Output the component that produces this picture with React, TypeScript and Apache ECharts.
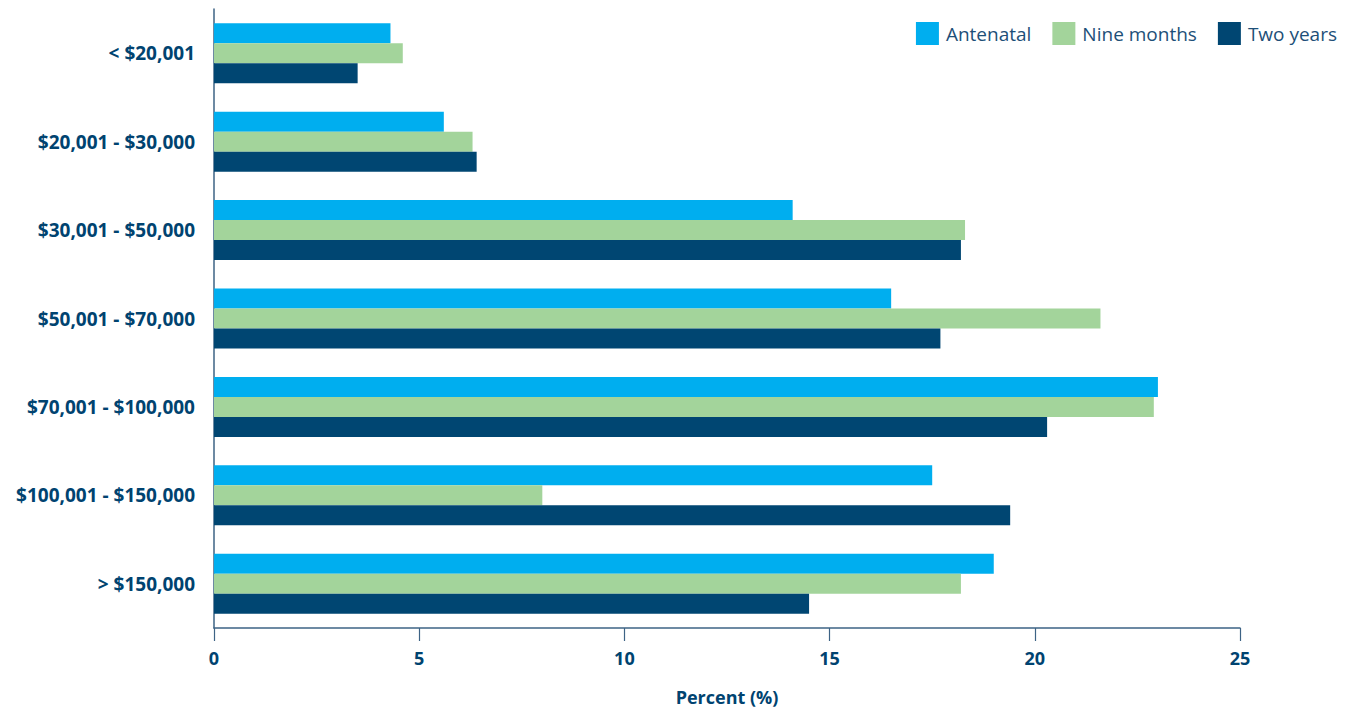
import React, { useEffect, useRef } from "react";
import * as echarts from "echarts";

const categories = [
  "< $20,001",
  "$20,001 - $30,000",
  "$30,001 - $50,000",
  "$50,001 - $70,000",
  "$70,001 - $100,000",
  "$100,001 - $150,000",
  "> $150,000",
];
const antenatal = [4.3, 5.6, 14.1, 16.5, 23.0, 17.5, 19.0];
const nineMonths = [4.6, 6.3, 18.3, 21.6, 22.9, 8.0, 18.2];
const twoYears = [3.5, 6.4, 18.2, 17.7, 20.3, 19.4, 14.5];
const xTicks = [0, 5, 10, 15, 20, 25];

const DARK = "#004370";
const FONT = "'Open Sans', 'Noto Sans', sans-serif";

export default function App() {
  const ref = useRef<HTMLDivElement>(null);
  useEffect(() => {
    if (!ref.current) return;
    const chart = echarts.init(ref.current, undefined, { renderer: "svg" });
    const mk = (name: string, data: number[], color: string) => ({
      name,
      type: "bar",
      data,
      barWidth: 20,
      barGap: "0%",
      itemStyle: { color },
    });
    chart.setOption({
      animation: false,
      textStyle: { fontFamily: FONT },
      legend: {
        right: 13,
        top: 17,
        itemWidth: 23,
        itemHeight: 23,
        itemGap: 21,
        icon: "rect",
        textStyle: { fontSize: 19, color: "#1d4f78", fontFamily: FONT, padding: [0, 0, 0, 2] },
        data: ["Antenatal", "Nine months", "Two years"],
      },
      grid: { left: 214, right: 115, top: 9, bottom: 79, containLabel: false },
      xAxis: {
        type: "value",
        min: xTicks[0],
        max: xTicks[xTicks.length - 1],
        interval: 5,
        name: "Percent (%)",
        nameLocation: "middle",
        nameGap: 60,
        nameTextStyle: { fontSize: 18, fontWeight: "bold", color: DARK, fontFamily: FONT },
        axisLine: { show: true, lineStyle: { color: "#3d6385", width: 1.5 } },
        axisTick: { show: true, length: 13, lineStyle: { color: "#3d6385", width: 1.2 } },
        axisLabel: { fontSize: 18, fontWeight: "bold", color: DARK, margin: 21, fontFamily: FONT },
        splitLine: { show: false },
      },
      yAxis: {
        type: "category",
        data: categories,
        inverse: true,
        axisLine: { show: true, lineStyle: { color: "#3d6385", width: 1.5 } },
        axisTick: { show: false },
        axisLabel: { fontSize: 19, fontWeight: "bold", color: DARK, margin: 19, fontFamily: FONT },
      },
      series: [
        mk("Antenatal", antenatal, "#00aeef"),
        mk("Nine months", nineMonths, "#a3d49b"),
        mk("Two years", twoYears, "#004672"),
      ],
    });
    return () => chart.dispose();
  }, []);
  return (
    <div
      ref={ref}
      style={{ position: "absolute", left: 0, top: 0, width: 1355, height: 711, background: "#fff" }}
    />
  );
}
